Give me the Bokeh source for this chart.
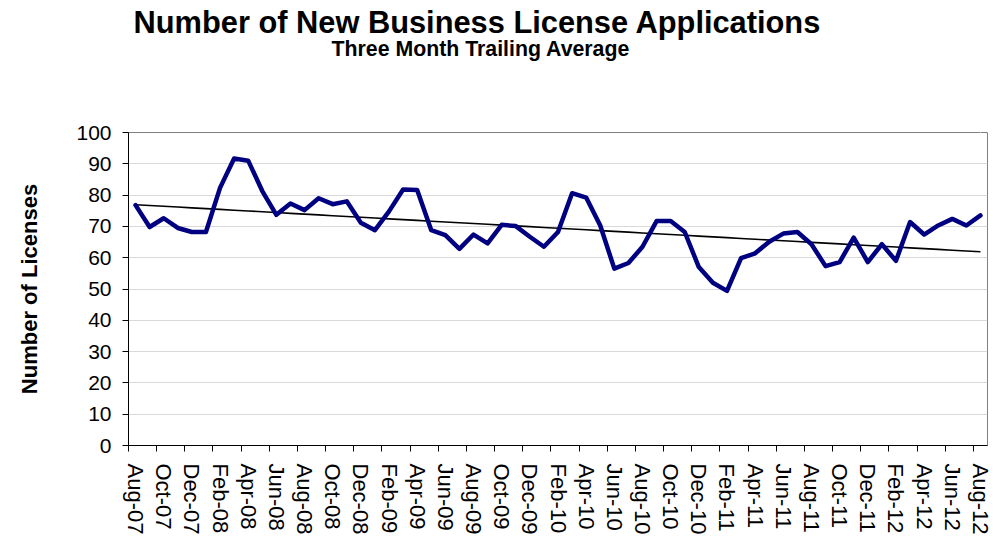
import numpy as np
from bokeh.plotting import figure
from bokeh.models import Range1d, FixedTicker, Title, LinearAxis
from bokeh.embed import file_html
from bokeh.resources import INLINE

# ---- data ----
months = [
    "Aug-07", "Sep-07", "Oct-07", "Nov-07", "Dec-07",
    "Jan-08", "Feb-08", "Mar-08", "Apr-08", "May-08", "Jun-08", "Jul-08",
    "Aug-08", "Sep-08", "Oct-08", "Nov-08", "Dec-08",
    "Jan-09", "Feb-09", "Mar-09", "Apr-09", "May-09", "Jun-09", "Jul-09",
    "Aug-09", "Sep-09", "Oct-09", "Nov-09", "Dec-09",
    "Jan-10", "Feb-10", "Mar-10", "Apr-10", "May-10", "Jun-10", "Jul-10",
    "Aug-10", "Sep-10", "Oct-10", "Nov-10", "Dec-10",
    "Jan-11", "Feb-11", "Mar-11", "Apr-11", "May-11", "Jun-11", "Jul-11",
    "Aug-11", "Sep-11", "Oct-11", "Nov-11", "Dec-11",
    "Jan-12", "Feb-12", "Mar-12", "Apr-12", "May-12", "Jun-12", "Jul-12",
    "Aug-12",
]
applications = [
    76.8, 69.8, 72.6, 69.5, 68.2,
    68.2, 82.3, 91.7, 91.0, 81.3, 73.7, 77.3,
    75.2, 79.0, 77.1, 78.0, 71.2,
    68.8, 74.8, 81.8, 81.6, 68.8, 67.2, 62.8,
    67.4, 64.6, 70.5, 70.1, 66.7,
    63.5, 68.2, 80.6, 79.2, 70.3, 56.5, 58.3,
    63.5, 71.7, 71.7, 68.2, 57.0,
    52.0, 49.4, 59.9, 61.4, 65.1, 67.7, 68.2,
    64.3, 57.3, 58.6, 66.4, 58.6,
    64.3, 59.0, 71.4, 67.4, 70.3, 72.4, 70.3,
    73.5,
]
y_ticks = [0, 10, 20, 30, 40, 50, 60, 70, 80, 90, 100]

title_text = "Number of New Business License Applications"
subtitle_text = "Three Month Trailing Average"
ylabel_text = "Number of Licenses"

FONT = "Liberation Sans"
W, H = 993, 537

idx = np.arange(len(months))
vals = np.array(applications)
slope, intercept = np.polyfit(idx, vals, 1)
trend = slope * idx + intercept

p = figure(width=W, height=H, output_backend="svg", toolbar_location=None,
           x_range=Range1d(-0.5, len(months) - 0.5), y_range=Range1d(0, 100),
           min_border_left=128, min_border_right=6, min_border_top=132,
           min_border_bottom=86)
p.background_fill_color = "white"
p.border_fill_color = "white"
p.outline_line_color = "#808080"
p.outline_line_width = 1

# x axis (below): labels on even months at category centres, ticks at category boundaries
even = [i for i in range(len(months)) if i % 2 == 0]
xa = p.below[0]
xa.ticker = FixedTicker(ticks=even, minor_ticks=[i - 0.5 for i in even])
xa.major_label_overrides = {i: months[i] for i in even}
xa.major_label_orientation = "vertical"
xa.axis_line_color = "black"
xa.axis_line_width = 1
xa.major_tick_line_color = None
xa.major_tick_out = 0
xa.major_tick_in = 0
xa.minor_tick_line_color = "black"
xa.minor_tick_out = 6
xa.minor_tick_in = 0
xa.major_label_text_font = FONT
xa.major_label_text_font_size = "22px"
xa.major_label_text_color = "black"
xa.major_label_standoff = 12

# y axis
ya = p.left[0]
ya.ticker = FixedTicker(ticks=y_ticks)
ya.axis_line_color = "black"
ya.axis_line_width = 1
ya.major_tick_line_color = "black"
ya.major_tick_out = 6
ya.major_tick_in = 0
ya.minor_tick_line_color = None
ya.major_label_text_font = FONT
ya.major_label_text_font_size = "21px"
ya.major_label_text_color = "black"
ya.major_label_standoff = 11
ya.axis_label = ylabel_text
ya.axis_label_text_font = FONT
ya.axis_label_text_font_size = "22px"
ya.axis_label_text_font_style = "bold"
ya.axis_label_text_color = "black"
ya.axis_label_standoff = 31

# invisible spacer between plot and subtitle: an axis with one white tick whose
# length sets the gap (the tick is drawn white on the white border)
spacer = LinearAxis(ticker=FixedTicker(ticks=[60]), axis_line_color=None,
                    major_tick_line_color="white", minor_tick_line_color=None,
                    major_tick_out=72, major_tick_in=0, minor_tick_out=0,
                    major_label_overrides={60: ""},
                    major_label_text_font_size="0px", major_label_standoff=0)
p.add_layout(spacer, "above")

# titles (subtitle first so it sits nearer the plot)
p.add_layout(Title(text=subtitle_text, text_font=FONT, text_font_size="21.3px",
                   text_font_style="bold", text_color="black", align="left",
                   offset=203, standoff=0), "above")
p.add_layout(Title(text=title_text, text_font=FONT, text_font_size="30.8px",
                   text_font_style="bold", text_color="black", align="left",
                   offset=5, standoff=-10), "above")

# trend line + data line
p.line(idx, trend, line_color="black", line_width=1.6)
p.line(idx, vals, line_color="#000080", line_width=4.5, line_join="round", line_cap="round")

# grids
p.xgrid.visible = False
p.ygrid.ticker = FixedTicker(ticks=y_ticks)
p.ygrid.grid_line_color = "#d9d9d9"
p.ygrid.grid_line_width = 1

open("out.html", "w").write(file_html(p, INLINE))
